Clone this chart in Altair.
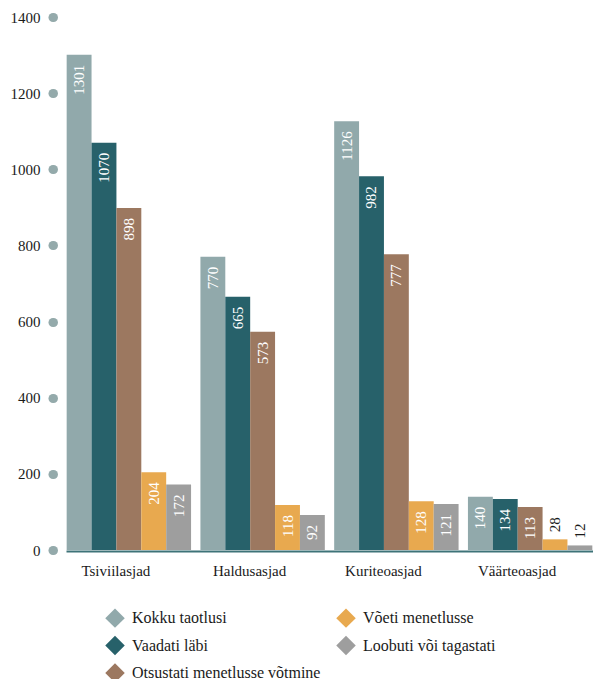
import altair as alt
import pandas as pd

categories = ["Tsiviilasjad", "Haldusasjad", "Kuriteoasjad", "Väärteoasjad"]
series = [
    "Kokku taotlusi",
    "Vaadati läbi",
    "Otsustati menetlusse võtmine",
    "Võeti menetlusse",
    "Loobuti või tagastati",
]
kokku_taotlusi = [1301, 770, 1126, 140]
vaadati_labi = [1070, 665, 982, 134]
otsustati = [898, 573, 777, 113]
voeti_menetlusse = [204, 118, 128, 28]
loobuti = [172, 92, 121, 12]
series_colors = ["#91a9ab", "#27616a", "#9c7860", "#e8a94f", "#9e9e9e"]
y_ticks = [0, 200, 400, 600, 800, 1000, 1200, 1400]

rows = []
for s, vals in zip(series, [kokku_taotlusi, vaadati_labi, otsustati, voeti_menetlusse, loobuti]):
    for c, v in zip(categories, vals):
        rows.append({"kategooria": c, "seeria": s, "vaartus": v})
df = pd.DataFrame(rows)

FONT = "Liberation Serif"
TXT = "#1a1a1a"

x_enc = alt.X(
    "kategooria:N",
    sort=categories,
    scale=alt.Scale(paddingInner=0.07, paddingOuter=0.005),
    axis=alt.Axis(
        title=None,
        labelAngle=0,
        labelOffset=-13,
        labelPadding=12,
        ticks=False,
        domainColor="#3e7378",
        domainWidth=2,
        offset=1,
        labelFont=FONT,
        labelFontSize=15,
        labelColor=TXT,
    ),
)
xo_enc = alt.XOffset("seeria:N", sort=series, scale=alt.Scale(paddingInner=0, paddingOuter=0))
y_enc = alt.Y(
    "vaartus:Q",
    scale=alt.Scale(domain=[0, 1400], nice=False),
    axis=alt.Axis(
        title=None,
        values=y_ticks,
        format="d",
        domain=False,
        grid=False,
        tickCap="round",
        tickWidth=9,
        tickSize=0.5,
        tickColor="#94aaab",
        offset=13,
        labelPadding=12.5,
        labelFont=FONT,
        labelFontSize=15,
        labelColor=TXT,
    ),
)

base = alt.Chart(df)

bars = base.mark_bar().encode(
    x=x_enc,
    xOffset=xo_enc,
    y=y_enc,
    color=alt.Color(
        "seeria:N",
        scale=alt.Scale(domain=series, range=series_colors),
        legend=alt.Legend(
            title=None,
            orient="none",
            legendX=39,
            legendY=591,
            columns=2,
            symbolType="diamond",
            symbolSize=380,
            symbolStrokeWidth=0,
            symbolOpacity=1,
            labelFont=FONT,
            labelFontSize=16,
            labelColor=TXT,
            labelOffset=7,
            columnPadding=15,
            rowPadding=7.5,
            padding=0,
            labelLimit=400,
        ),
    ),
)

inside = base.mark_text(
    angle=270, align="right", baseline="middle", dx=-10, color="white", font=FONT, fontSize=15
).encode(x=x_enc, xOffset=xo_enc, y=y_enc, text="vaartus:Q").transform_filter("datum.vaartus >= 50")

outside = base.mark_text(
    angle=270, align="left", baseline="middle", dx=7, color=TXT, font=FONT, fontSize=15
).encode(x=x_enc, xOffset=xo_enc, y=y_enc, text="vaartus:Q").transform_filter("datum.vaartus < 50")

chart = (
    alt.layer(bars, inside, outside)
    .properties(
        width=527,
        height=533,
        autosize=alt.AutoSizeParams(type="none"),
        padding={"left": 58, "top": 9, "right": 0, "bottom": 129},
        background="white",
    )
    .configure_view(stroke=None)
)

chart.save("out.html", embed_options={"renderer": "svg", "actions": False})
